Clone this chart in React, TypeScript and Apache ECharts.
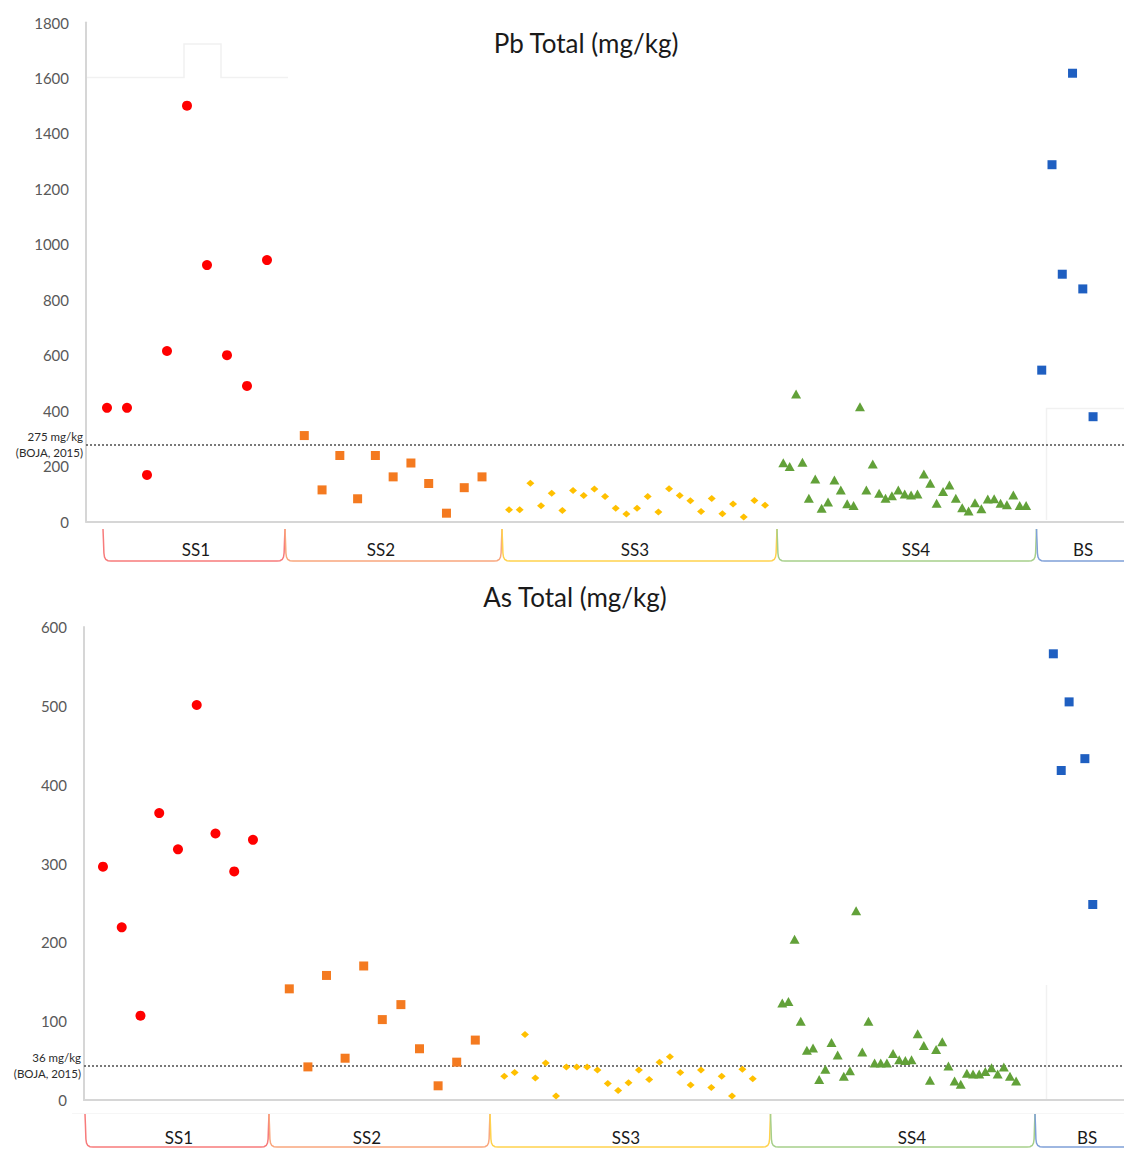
import React, { useEffect, useRef } from "react";
import * as echarts from "echarts";

// ---------- data ----------
const GROUPS = ["SS1", "SS2", "SS3", "SS4", "BS"];

const PB_SS1 = [410, 410, 168, 615, 1500, 925, 600, 489, 943];
const PB_SS2 = [310, 114, 238, 82, 238, 161, 211, 137, 30, 122, 161];
const PB_SS3 = [42, 42, 138, 57, 102, 40, 112, 94, 117, 90, 48, 27, 48, 90, 34, 118, 94, 75, 36, 83, 28, 63, 16, 76, 59];
const PB_SS4 = [212, 198, 460, 214, 84, 153, 48, 70, 150, 114, 64, 58, 414, 114, 207, 102, 84, 93, 114, 99, 96, 99, 171, 138, 66, 108, 132, 84, 50, 38, 68, 46, 81, 82, 66, 60, 96, 58, 58];
const PB_BS = [546, 1287, 892, 1617, 839, 378];

const AS_SS1 = [296, 219, 107, 364, 318, 501, 338, 290, 330];
const AS_SS2 = [141, 42, 158, 53, 170, 102, 121, 65, 18, 48, 76];
const AS_SS3 = [30, 35, 83, 28, 47, 5, 42, 42, 42, 38, 21, 12, 22, 38, 26, 48, 55, 35, 19, 38, 16, 30, 5, 39, 27];
const AS_SS4 = [123, 125, 204, 100, 63, 66, 26, 39, 73, 57, 30, 37, 240, 61, 100, 47, 47, 47, 59, 51, 50, 51, 84, 69, 25, 64, 74, 43, 24, 20, 34, 33, 33, 36, 41, 33, 42, 30, 24];
const AS_BS = [566, 418, 505, null, 433, 248];

const PB_TITLE = "Pb Total (mg/kg)";
const AS_TITLE = "As Total (mg/kg)";
const PB_MAX = 1800;
const PB_STEP = 200;
const AS_MAX = 600;
const AS_STEP = 100;
const PB_LIMIT_LINE = 277;
const PB_LIMIT_LABEL = "275 mg/kg\n(BOJA, 2015)";
const AS_LIMIT_LINE = 44;
const AS_LIMIT_LABEL = "36 mg/kg\n(BOJA, 2015)";

// ---------- styles / layout ----------
const FONT = "Lato";
const MARKERS = [
  { symbol: "circle", size: 10, color: "#ff0000" },
  { symbol: "rect", size: 9, color: "#f47a20" },
  { symbol: "diamond", size: [8, 7], color: "#ffc000" },
  { symbol: "triangle", size: [10, 9], color: "#62a139" },
  { symbol: "rect", size: 9, color: "#1f5fc1" },
];
const BRACKET_COLORS = ["#f77b7b", "#f9a77e", "#ffd24d", "#a6cf8a", "#7fa0d8"];

const PANELS = [
  {
    title: PB_TITLE,
    titleX: 586,
    titleY: 30,
    data: [PB_SS1, PB_SS2, PB_SS3, PB_SS4, PB_BS],
    max: PB_MAX,
    step: PB_STEP,
    limit: PB_LIMIT_LINE,
    limitLabel: PB_LIMIT_LABEL,
    axisLeft: 86,
    top: 22.5,
    height: 499,
    groupBoxes: [
      [97, 180],
      [295.4, 195.5],
      [503.7, 266.7],
      [780.1, 249.2],
      [1036.6, 61.6],
    ],
    brackets: [103, 285, 502, 777, 1036.5, 1130],
    bracketTop: 529,
    bracketBottom: 561,
    labelX: [196, 381, 635, 916, 1083],
    labelY: 549,
  },
  {
    title: AS_TITLE,
    titleX: 575,
    titleY: 584,
    data: [AS_SS1, AS_SS2, AS_SS3, AS_SS4, AS_BS],
    max: AS_MAX,
    step: AS_STEP,
    limit: AS_LIMIT_LINE,
    limitLabel: AS_LIMIT_LABEL,
    axisLeft: 84,
    top: 627,
    height: 473,
    groupBoxes: [
      [93.6, 168.75],
      [280, 204.6],
      [499.1, 258.8],
      [779.2, 240],
      [1049.4, 47.3],
    ],
    brackets: [85, 269, 490, 770.5, 1035, 1130],
    bracketTop: 1114,
    bracketBottom: 1147,
    labelX: [179, 367, 626, 912, 1087],
    labelY: 1137,
  },
];

function bracketPoints(x0: number, x1: number, yT: number, yB: number, openRight: boolean) {
  const side = [
    [0, 0],
    [0.4, 10],
    [0.9, yB - yT - 8],
    [1.5, yB - yT - 4],
    [2.8, yB - yT - 1.5],
    [5, yB - yT - 0.3],
    [8, yB - yT],
  ];
  const pts: number[][] = side.map(([dx, dy]) => [x0 + dx, yT + dy]);
  if (openRight) {
    pts.push([x1, yB]);
  } else {
    for (let i = side.length - 1; i >= 0; i--) {
      pts.push([x1 - side[i][0], yT + side[i][1]]);
    }
  }
  return pts;
}

function buildOption() {
  const grid: any[] = [];
  const xAxis: any[] = [];
  const yAxis: any[] = [];
  const series: any[] = [];
  const title: any[] = [];
  const graphic: any[] = [];

  PANELS.forEach((p) => {
    // background grid with visible axes and limit line
    const bgIndex = grid.length;
    grid.push({ left: p.axisLeft, top: p.top, width: 1124 - p.axisLeft, height: p.height, containLabel: false });
    xAxis.push({
      gridIndex: bgIndex,
      type: "value",
      min: 0,
      max: 1,
      axisLine: { show: true, onZero: false, lineStyle: { color: "#d6d6d6", width: 2 } },
      axisTick: { show: false },
      axisLabel: { show: false },
      splitLine: { show: false },
    });
    yAxis.push({
      gridIndex: bgIndex,
      type: "value",
      min: 0,
      max: p.max,
      interval: p.step,
      axisLine: { show: true, lineStyle: { color: "#d6d6d6", width: 2 } },
      axisTick: { show: false },
      splitLine: { show: false },
      axisLabel: {
        color: "#595959",
        fontSize: 15,
        fontFamily: FONT,
        margin: 17,
        formatter: (v: number) => String(v),
      },
    });
    series.push({
      type: "scatter",
      xAxisIndex: bgIndex,
      yAxisIndex: bgIndex,
      data: [],
      silent: true,
      markLine: {
        silent: true,
        symbol: ["none", "none"],
        lineStyle: { color: "#4d4d4d", type: [2, 2], width: 1.5 },
        label: {
          show: true,
          position: "start",
          distance: 3,
          formatter: p.limitLabel,
          color: "#2b2b2b",
          fontSize: 11.5,
          lineHeight: 16,
          fontFamily: FONT,
        },
        data: [{ yAxis: p.limit }],
      },
    });

    // one grid per sample group
    p.data.forEach((vals, gi) => {
      const idx = grid.length;
      const [left, width] = p.groupBoxes[gi];
      grid.push({ left, top: p.top, width, height: p.height, containLabel: false });
      xAxis.push({
        gridIndex: idx,
        type: "category",
        boundaryGap: true,
        data: vals.map((_, i) => `${GROUPS[gi]}-${i + 1}`),
        show: false,
      });
      yAxis.push({ gridIndex: idx, type: "value", min: 0, max: p.max, show: false });
      const m = MARKERS[gi];
      series.push({
        name: GROUPS[gi],
        type: "scatter",
        xAxisIndex: idx,
        yAxisIndex: idx,
        symbol: m.symbol,
        symbolSize: m.size,
        itemStyle: { color: m.color, opacity: 1 },
        data: vals,
        z: 5,
      });
    });

    title.push({
      text: p.title,
      left: p.titleX,
      top: p.titleY,
      textAlign: "center",
      padding: 0,
      textStyle: { fontSize: 26, fontWeight: "normal", color: "#1a1a1a", fontFamily: FONT },
    });

    // brackets under each group
    GROUPS.forEach((g, gi) => {
      const x0 = p.brackets[gi];
      const x1 = p.brackets[gi + 1];
      graphic.push({
        type: "polyline",
        silent: true,
        shape: { points: bracketPoints(x0, x1, p.bracketTop, p.bracketBottom, gi === GROUPS.length - 1) },
        style: { stroke: BRACKET_COLORS[gi], lineWidth: 1.5, fill: null },
      });
      graphic.push({
        type: "text",
        silent: true,
        x: p.labelX[gi],
        y: p.labelY,
        style: {
          text: g,
          fill: "#1a1a1a",
          fontSize: 17,
          fontFamily: FONT,
          align: "center",
          verticalAlign: "middle",
        },
      });
    });
  });

  // faint frame remnants seen in the original picture
  const faint = "#f1f1f1";
  graphic.push(
    { type: "polyline", silent: true, shape: { points: [[87, 77.5], [184, 77.5], [184, 44], [221, 44], [221, 77.5], [288, 77.5]] }, style: { stroke: faint, lineWidth: 1.5, fill: null } },
    { type: "line", silent: true, shape: { x1: 86, y1: 22.5, x2: 86, y2: 78 }, style: { stroke: "#c4c4c4", lineWidth: 2 } },
    { type: "polyline", silent: true, shape: { points: [[1046.5, 520], [1046.5, 408.5], [1124, 408.5]] }, style: { stroke: faint, lineWidth: 1.5, fill: null } },
    { type: "line", silent: true, shape: { x1: 1046.5, y1: 985, x2: 1046.5, y2: 1099 }, style: { stroke: faint, lineWidth: 1.5 } },
    { type: "line", silent: true, shape: { x1: 72, y1: 1113.5, x2: 1124, y2: 1113.5 }, style: { stroke: "#f6f6f6", lineWidth: 1 } }
  );

  return {
    animation: false,
    backgroundColor: "#ffffff",
    title,
    grid,
    xAxis,
    yAxis,
    series,
    graphic,
  };
}

export default function App() {
  const ref = useRef<HTMLDivElement>(null);
  useEffect(() => {
    document.body.style.margin = "0";
    if (!ref.current) return;
    const chart = echarts.init(ref.current, null, { renderer: "svg" });
    chart.setOption(buildOption() as any);
    return () => chart.dispose();
  }, []);
  return <div ref={ref} style={{ width: 1124, height: 1149, position: "absolute", left: 0, top: 0 }} />;
}
